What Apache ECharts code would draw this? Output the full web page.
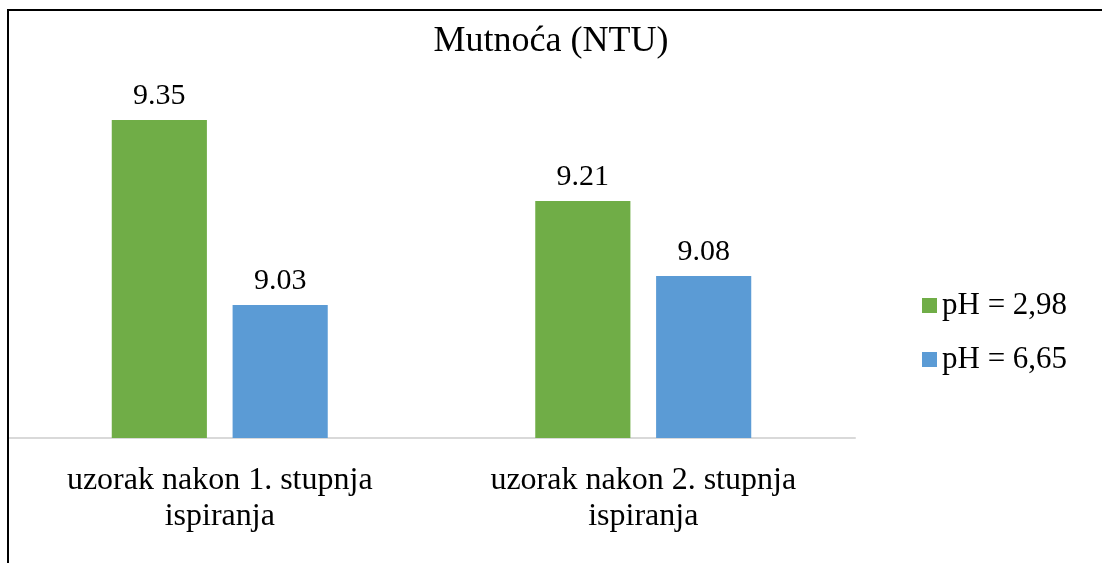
<!DOCTYPE html>
<html>
<head>
<meta charset="utf-8">
<script src="https://cdn.jsdelivr.net/npm/echarts@6/dist/echarts.min.js"></script>
<style>
html,body{margin:0;padding:0;background:#fff;}
#chart{width:1102px;height:563px;}
</style>
</head>
<body>
<div id="chart"></div>
<script>
var titleText = 'Mutnoća (NTU)';
var categories = ['uzorak nakon 1. stupnja\nispiranja', 'uzorak nakon 2. stupnja\nispiranja'];
var seriesNames = ['pH = 2,98', 'pH = 6,65'];
var valuesPH298 = [9.35, 9.21];
var valuesPH665 = [9.03, 9.08];
var colors = ['#70ad47', '#5b9bd5'];

var font = '"Liberation Serif", "Times New Roman", serif';
var chart = echarts.init(document.getElementById('chart'));
chart.setOption({
  animation: false,
  backgroundColor: '#ffffff',
  textStyle: { fontFamily: font },
  title: {
    text: titleText,
    left: 'center',
    top: 19,
    textStyle: { fontFamily: font, fontSize: 36, fontWeight: 'normal', color: '#000' }
  },
  legend: {
    orient: 'vertical',
    left: 917,
    top: 285,
    itemWidth: 15,
    itemHeight: 15,
    itemGap: 23,
    icon: 'rect',
    textStyle: { fontFamily: font, fontSize: 31, color: '#000' },
    data: seriesNames
  },
  grid: { left: 8, right: 247, top: 91, bottom: 125, containLabel: false },
  xAxis: {
    type: 'category',
    data: categories,
    axisTick: { show: false },
    axisLine: { lineStyle: { color: '#d9d9d9', width: 2 } },
    axisLabel: { fontFamily: font, fontSize: 32, color: '#000', lineHeight: 36, margin: 25, interval: 0 }
  },
  yAxis: {
    type: 'value',
    min: 8.8,
    max: 9.4,
    interval: 0.1,
    show: false,
    splitLine: { show: false }
  },
  graphic: [{
    type: 'rect',
    shape: { x: 8, y: 10, width: 1200, height: 1000 },
    style: { fill: 'none', stroke: '#000', lineWidth: 2 },
    silent: true,
    z: 100
  }],
  series: [{
    name: seriesNames[0],
    type: 'bar',
    data: valuesPH298,
    itemStyle: { color: colors[0] },
    barGap: '27%',
    barCategoryGap: '49%',
    label: { show: true, position: 'top', distance: 9, fontFamily: font, fontSize: 30, color: '#000' }
  }, {
    name: seriesNames[1],
    type: 'bar',
    data: valuesPH665,
    itemStyle: { color: colors[1] },
    barGap: '27%',
    barCategoryGap: '49%',
    label: { show: true, position: 'top', distance: 9, fontFamily: font, fontSize: 30, color: '#000' }
  }]
});
</script>
</body>
</html>
